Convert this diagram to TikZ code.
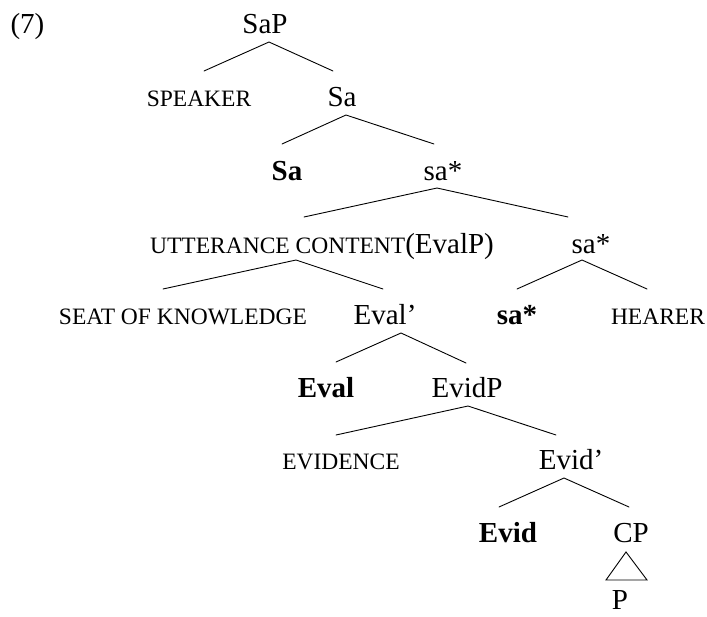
\documentclass[tikz,border=0pt]{standalone}
\usepackage{fontspec}
\setmainfont{Liberation Serif}
\begin{document}
\begin{tikzpicture}[x=1pt,y=-1pt,
  lbl/.style={anchor=base,inner sep=0pt,font=\fontsize{29}{34}\selectfont},
  bl/.style={lbl,font=\fontsize{29}{34}\selectfont\bfseries},
  sc/.style={anchor=base,inner sep=0pt,font=\fontsize{23.5}{28}\selectfont},
  br/.style={line width=0.9pt,line cap=round,line join=miter}]
\useasboundingbox (0,0) rectangle (707,616);
% labels
\node[lbl] (seven) at (27.5,33) {(7)};
\node[lbl] (SaP) at (265,33) {SaP};
\node[sc] (SPEAKER) at (199,106) {SPEAKER};
\node[lbl] (Sa) at (342,106) {Sa};
\node[bl] (Sab) at (287,180) {Sa};
\node[lbl] (saA) at (443,180) {sa*};
\node[sc] (UC) at (322,253) {UTTERANCE CONTENT{\fontsize{29}{34}\selectfont(EvalP)}};
\node[lbl] (saB) at (591,253) {sa*};
\node[sc] (SEAT) at (183,324) {SEAT OF KNOWLEDGE};
\node[lbl] (Evalp) at (385,324) {Eval’};
\node[bl] (sab) at (517,324) {sa*};
\node[sc] (HEARER) at (658,324) {HEARER};
\node[bl] (Evalb) at (326,397) {Eval};
\node[lbl] (EvidP) at (467,397) {EvidP};
\node[sc] (EVIDENCE) at (341,469) {EVIDENCE};
\node[lbl] (Evidp) at (571,469) {Evid’};
\node[bl] (Evidb) at (508,542) {Evid};
\node[lbl] (CP) at (631,542) {CP};
\node[lbl,text depth=0pt] (P) at (620,609) {P};
% branch points
\coordinate (aSaP) at (269,42);   \coordinate (lSaP) at (204,71);  \coordinate (rSaP) at (333,71);
\coordinate (aSa) at (346,115);   \coordinate (lSa) at (282,144);  \coordinate (rSa) at (434,144);
\coordinate (aA) at (437,188);    \coordinate (lA) at (304,217);   \coordinate (rA) at (568,217);
\coordinate (aUC) at (296,260);   \coordinate (lUC) at (163,289);  \coordinate (rUC) at (383,289);
\coordinate (aB) at (582,260);    \coordinate (lB) at (517,289);   \coordinate (rB) at (647,289);
\coordinate (aEv) at (401,333);   \coordinate (lEv) at (336,362);  \coordinate (rEv) at (466,363);
\coordinate (aEP) at (468,406);   \coordinate (lEP) at (336,435);  \coordinate (rEP) at (556,435);
\coordinate (aEd) at (564,478);   \coordinate (lEd) at (499,507);  \coordinate (rEd) at (629,507);
\coordinate (tT) at (626,552);    \coordinate (tL) at (606,580);   \coordinate (tR) at (647,580);
% branches
\draw[br] (lSaP) -- (aSaP) -- (rSaP);
\draw[br] (lSa) -- (aSa) -- (rSa);
\draw[br] (lA) -- (aA) -- (rA);
\draw[br] (lUC) -- (aUC) -- (rUC);
\draw[br] (lB) -- (aB) -- (rB);
\draw[br] (lEv) -- (aEv) -- (rEv);
\draw[br] (lEP) -- (aEP) -- (rEP);
\draw[br] (lEd) -- (aEd) -- (rEd);
\draw[br] (tT) -- (tL) -- (tR) -- cycle;
\end{tikzpicture}
\end{document}
